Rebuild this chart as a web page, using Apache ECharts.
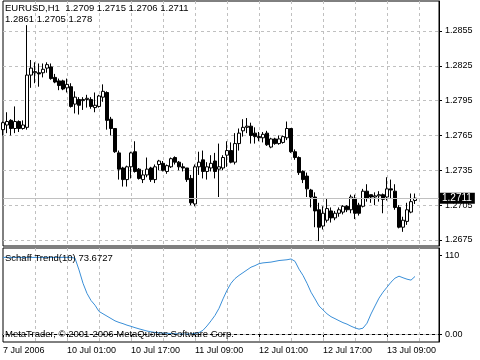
<!DOCTYPE html>
<html><head><meta charset="utf-8">
<script src="https://cdn.jsdelivr.net/npm/echarts@6/dist/echarts.min.js"></script>
<style>html,body{margin:0;padding:0;background:#fff}#c{width:480px;height:360px}</style>
</head><body><div id="c"></div>
<script>
const symbol = 'EURUSD', period = 'H1';
const opens = [1.2770,1.2774,1.2778,1.2771,1.2777,1.2771,1.2772,1.2817,1.2819,1.2819,
1.2819,1.2823,1.2824,1.2815,1.2812,1.2812,1.2806,1.2807,1.2792,1.2796,
1.2795,1.2796,1.2796,1.2789,1.2790,1.2798,1.2802,1.2779,1.2771,1.2750,
1.2737,1.2727,1.2738,1.2751,1.2736,1.2727,1.2731,1.2737,1.2727,1.2740,
1.2741,1.2734,1.2738,1.2746,1.2742,1.2738,1.2737,1.2728,1.2706,1.2738,
1.2744,1.2734,1.2737,1.2743,1.2736,1.2737,1.2748,1.2752,1.2742,1.2758,
1.2769,1.2772,1.2773,1.2767,1.2764,1.2763,1.2767,1.2755,1.2762,1.2758,
1.2759,1.2763,1.2771,1.2751,1.2746,1.2734,1.2730,1.2718,1.2712,1.2701,
1.2687,1.2692,1.2700,1.2694,1.2698,1.2699,1.2704,1.2701,1.2711,1.2705,
1.2704,1.2717,1.2714,1.2712,1.2713,1.2714,1.2712,1.2719,1.2717,1.2703,
1.2686,1.2691,1.2699,1.2709];
const highs = [1.2777,1.2785,1.2779,1.2790,1.2778,1.2778,1.2860,1.2830,1.2828,1.2827,
1.2827,1.2828,1.2827,1.2818,1.2814,1.2813,1.2814,1.2810,1.2803,1.2798,
1.2798,1.2800,1.2798,1.2802,1.2800,1.2809,1.2803,1.2781,1.2771,1.2752,
1.2738,1.2739,1.2751,1.2760,1.2737,1.2735,1.2746,1.2738,1.2740,1.2744,
1.2743,1.2740,1.2746,1.2747,1.2743,1.2741,1.2737,1.2731,1.2740,1.2751,
1.2752,1.2742,1.2748,1.2750,1.2758,1.2748,1.2760,1.2759,1.2767,1.2771,
1.2779,1.2780,1.2776,1.2772,1.2768,1.2768,1.2769,1.2763,1.2763,1.2765,
1.2765,1.2777,1.2771,1.2753,1.2747,1.2735,1.2733,1.2719,1.2716,1.2707,
1.2704,1.2711,1.2703,1.2700,1.2703,1.2705,1.2705,1.2714,1.2714,1.2707,
1.2719,1.2723,1.2714,1.2716,1.2717,1.2715,1.2729,1.2727,1.2723,1.2705,
1.2695,1.2707,1.2715,1.2715];
const lows = [1.2765,1.2767,1.2765,1.2767,1.2768,1.2770,1.2770,1.2806,1.2810,1.2807,
1.2815,1.2819,1.2813,1.2810,1.2804,1.2804,1.2802,1.2789,1.2784,1.2783,
1.2787,1.2789,1.2788,1.2785,1.2789,1.2794,1.2770,1.2765,1.2750,1.2727,
1.2721,1.2721,1.2728,1.2733,1.2727,1.2724,1.2729,1.2725,1.2724,1.2735,
1.2734,1.2732,1.2737,1.2740,1.2735,1.2734,1.2725,1.2705,1.2704,1.2731,
1.2728,1.2727,1.2734,1.2728,1.2712,1.2735,1.2738,1.2741,1.2740,1.2752,
1.2764,1.2767,1.2758,1.2758,1.2760,1.2759,1.2756,1.2754,1.2757,1.2757,
1.2758,1.2761,1.2750,1.2744,1.2731,1.2724,1.2712,1.2703,1.2686,1.2674,
1.2684,1.2690,1.2690,1.2692,1.2695,1.2697,1.2699,1.2698,1.2693,1.2696,
1.2703,1.2708,1.2707,1.2705,1.2708,1.2698,1.2709,1.2711,1.2701,1.2685,
1.2682,1.2688,1.2698,1.2706];
const closes = [1.2776,1.2777,1.2771,1.2777,1.2771,1.2774,1.2817,1.2823,1.2820,1.2818,
1.2822,1.2826,1.2814,1.2811,1.2808,1.2805,1.2809,1.2790,1.2798,1.2791,
1.2796,1.2797,1.2790,1.2791,1.2799,1.2803,1.2778,1.2771,1.2751,1.2736,
1.2727,1.2738,1.2750,1.2734,1.2728,1.2731,1.2736,1.2727,1.2738,1.2743,
1.2735,1.2739,1.2745,1.2742,1.2738,1.2737,1.2727,1.2707,1.2738,1.2742,
1.2734,1.2738,1.2741,1.2734,1.2738,1.2746,1.2752,1.2742,1.2758,1.2767,
1.2772,1.2773,1.2765,1.2764,1.2763,1.2766,1.2757,1.2762,1.2758,1.2762,
1.2764,1.2771,1.2751,1.2746,1.2733,1.2727,1.2719,1.2712,1.2700,1.2686,
1.2698,1.2702,1.2694,1.2698,1.2701,1.2704,1.2701,1.2712,1.2698,1.2698,
1.2717,1.2711,1.2712,1.2713,1.2714,1.2710,1.2719,1.2718,1.2703,1.2686,
1.2692,1.2701,1.2708,1.2711];
const schaff = [98,98,98,98,98,98,98,98,98,98,98,98,98,98,98,98,98,98,
97,82,65,52,43,37,29,26,23,20,17,15,13.4,11.5,10,8.3,6.8,5.4,4,3,2.2,1.7,
1.3,1.2,0.8,0.5,0.3,0.2,0.1,0.3,0.9,2,5,10.5,17,24,33,45,56,65,71,75,
78.5,82,85.5,87.5,90,91,91.5,92,93,94,94.5,95,96,93,83,75,65,53.6,45,36,
31,26,22.3,19.8,17.2,14.7,12.8,10.2,8,6.4,7.7,14,25.8,36,46,53.6,60,66.4,71.5,74,
72,70.2,69,73.6727];
const priceTicks = [1.2675,1.2705,1.2735,1.2765,1.2795,1.2825,1.2855];
const timeTickLabels = ['7 Jul 2006','10 Jul 01:00','10 Jul 17:00','11 Jul 09:00','12 Jul 01:00','12 Jul 17:00','13 Jul 09:00'];
const extraValues = ['1.2861','1.2705','1.278'];
const indName = 'Schaff Trend(10)';
const copyright = 'MetaTrader, \u00a9 2001-2006 MetaQuotes Software Corp.';

const nSlots = 110;
const cats = Array.from({length: nSlots}, (_, i) => String(i));
const candles = opens.map((o, i) => [o, closes[i], lows[i], highs[i]]);
const last = opens.length - 1;
const ff = 'Liberation Sans';
const gridDash = {color: '#c0c0c0', type: [3, 3], width: 1};

const chart = echarts.init(document.getElementById('c'), null, {renderer: 'canvas'});
chart.setOption({
  animation: false,
  backgroundColor: '#fff',
  grid: [
    {left: 3, right: 41, top: 1, height: 245, show: true, borderColor: '#000', borderWidth: 1, backgroundColor: '#fff'},
    {left: 3, right: 41, top: 248, height: 94, show: true, borderColor: '#000', borderWidth: 1, backgroundColor: '#fff'}
  ],
  xAxis: [
    {type: 'category', gridIndex: 0, data: cats, boundaryGap: false,
     axisLine: {show: false}, axisTick: {show: false}, axisLabel: {show: false},
     splitLine: {show: true, interval: (i) => i > 0 && i % 8 === 0, lineStyle: gridDash}},
    {type: 'category', gridIndex: 1, data: cats, boundaryGap: false,
     axisLine: {show: true, lineStyle: {color: '#000'}},
     axisTick: {show: true, interval: (i) => i % 16 === 0, length: 3, lineStyle: {color: '#000'}},
     axisLabel: {show: true, interval: (i) => i % 16 === 0, align: 'left', margin: 4,
       formatter: (v, i) => timeTickLabels[i / 16] || '', fontFamily: ff, fontSize: 9, color: '#000'},
     splitLine: {show: true, interval: (i) => i > 0 && i % 8 === 0, lineStyle: gridDash}}
  ],
  yAxis: [
    {type: 'value', gridIndex: 0, position: 'right', min: 1.26698, max: 1.28808,
     axisLine: {show: true, lineStyle: {color: '#000'}},
     axisTick: {show: true, length: 3, customValues: priceTicks, lineStyle: {color: '#000'}},
     axisLabel: {customValues: priceTicks, formatter: (v) => v.toFixed(4), margin: 6,
       fontFamily: ff, fontSize: 9, color: '#000'},
     splitLine: {show: true, lineStyle: gridDash}},
    {type: 'value', gridIndex: 1, position: 'right', min: -10, max: 110,
     axisLine: {show: true, lineStyle: {color: '#000'}},
     axisTick: {show: true, length: 3, customValues: [0, 101], lineStyle: {color: '#000'}},
     axisLabel: {customValues: [-2, 0, 101], margin: 6, hideOverlap: false,
       formatter: (v) => v > 50 ? '110' : (v < 0 ? '-10' : '0.00'),
       fontFamily: ff, fontSize: 9, color: '#000'},
     splitLine: {show: false}}
  ],
  series: [
    {type: 'candlestick', xAxisIndex: 0, yAxisIndex: 0, data: candles, barWidth: 3,
     itemStyle: {color: '#fff', color0: '#000', borderColor: '#000', borderColor0: '#000', borderWidth: 1},
     emphasis: {disabled: true},
     markLine: {silent: true, symbol: 'none', animation: false, precision: 4,
       data: [{yAxis: closes[last]}],
       lineStyle: {color: '#c0c0c0', type: 'solid', width: 1},
       label: {position: 'end', formatter: closes[last].toFixed(4), backgroundColor: '#000', color: '#fff',
         padding: [1, 3, 0, 2], distance: 1, fontFamily: ff, fontSize: 10}}},
    {type: 'line', xAxisIndex: 1, yAxisIndex: 1, data: schaff, showSymbol: false, symbol: 'none',
     lineStyle: {color: '#3a8fd8', width: 1}, emphasis: {disabled: true},
     markLine: {silent: true, symbol: 'none', animation: false, data: [{yAxis: 0}],
       lineStyle: gridDash, label: {show: false}}}
  ],
  graphic: [
    {type: 'text', left: 5, top: 3, z: 100, style: {text: symbol + ',' + period + '  ' +
      [opens[last], highs[last], lows[last], closes[last]].map(v => v.toFixed(4)).join(' '),
      font: '9.5px "Liberation Sans"', fill: '#000'}},
    {type: 'text', left: 5, top: 14, z: 100, style: {text: extraValues.join(' '), font: '9.5px "Liberation Sans"', fill: '#000'}},
    {type: 'text', left: 5, top: 253, z: 100, style: {text: indName + ' ' + schaff[last].toFixed(4), font: '9.5px "Liberation Sans"', fill: '#000'}},
    {type: 'text', left: 5, top: 329, z: 100, style: {text: copyright, font: '9.5px "Liberation Sans"', fill: '#000'}}
  ]
});
</script></body></html>
